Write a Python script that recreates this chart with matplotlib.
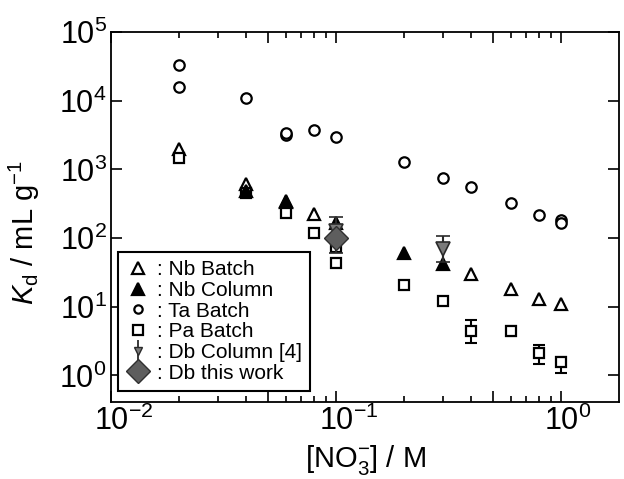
import matplotlib
matplotlib.use('Agg')
import matplotlib.pyplot as plt
import matplotlib.transforms as mtransforms
from matplotlib.ticker import FixedLocator, FuncFormatter, NullLocator
from matplotlib.lines import Line2D
import numpy as np

plt.rcParams['font.family'] = ['Liberation Sans', 'DejaVu Sans']
plt.rcParams['mathtext.fontset'] = 'custom'
plt.rcParams['mathtext.rm'] = 'Liberation Sans'
plt.rcParams['mathtext.it'] = 'Liberation Sans:italic'
plt.rcParams['mathtext.bf'] = 'Liberation Sans:bold'

# ---------------- data ----------------
nb_batch_x = [0.02, 0.04, 0.06, 0.08, 0.4, 0.6, 0.8, 1.0]
nb_batch_y = [1950, 620, 330, 225, 30, 18, 12.8, 10.8]

nb_col_x = [0.04, 0.06, 0.1, 0.2, 0.3]
nb_col_y = [490, 350, 165, 60, 42]

ta_batch_x = [0.02, 0.02, 0.04, 0.06, 0.06, 0.08, 0.1, 0.2, 0.3, 0.4, 0.6, 0.8, 1.0, 1.0]
ta_batch_y = [33500, 16000, 11000, 3200, 3400, 3700, 3000, 1260, 760, 545, 320, 213, 180, 163]

pa_batch_x = [0.02, 0.04, 0.06, 0.08, 0.1, 0.1, 0.2, 0.3, 0.4, 0.6, 0.8, 1.0]
pa_batch_y = [1480, 460, 230, 117, 73, 43, 21, 12.3, 4.5, 4.4, 2.15, 1.55]
pa_err_x = [0.4, 0.6, 0.8, 1.0]
pa_err_y = [4.5, 4.4, 2.15, 1.55]
pa_err_low = [3.0, 3.7, 1.45, 1.07]
pa_err_high = [6.3, 5.2, 2.8, 1.85]

db_col_x = [0.1, 0.3]
db_col_y = [125, 70]
db_col_low = [60, 45]
db_col_high = [205, 108]

db_this_x = [0.1]
db_this_y = [100]

legend_labels = [': Nb Batch', ': Nb Column', ': Ta Batch', ': Pa Batch',
                 ': Db Column [4]', ': Db this work']
x_ticks = [0.01, 0.05, 0.1, 0.5, 1.0]
y_ticks = [1, 10, 100, 1000, 10000, 100000]

# ---------------- figure ----------------
fig = plt.figure(figsize=(6.24, 4.79), dpi=100)
ax = fig.add_axes([0.1779, 0.1608, 0.8141, 0.7724])
ax.set_xscale('log')
ax.set_yscale('log')
ax.set_xlim(0.01, 1.81)
ax.set_ylim(0.41, 1e5)

mew = 1.6
ax.plot(nb_batch_x, nb_batch_y, ls='none', marker='^', ms=8.5,
        mfc='white', mec='black', mew=mew, zorder=3)
ax.plot(pa_batch_x, pa_batch_y, ls='none', marker='s', ms=6.8,
        mfc='white', mec='black', mew=mew, zorder=3)
ax.errorbar(pa_err_x, pa_err_y,
            yerr=[np.array(pa_err_y) - np.array(pa_err_low),
                  np.array(pa_err_high) - np.array(pa_err_y)],
            fmt='none', ecolor='black', elinewidth=1.5, capsize=4.5,
            capthick=1.5, zorder=2)
ax.plot(ta_batch_x, ta_batch_y, ls='none', marker='o', ms=7.5,
        mfc='white', mec='black', mew=mew, zorder=3)
ax.plot(nb_col_x, nb_col_y, ls='none', marker='^', ms=8.5,
        mfc='black', mec='black', mew=mew, zorder=4)
ax.errorbar(db_col_x, db_col_y,
            yerr=[np.array(db_col_y) - np.array(db_col_low),
                  np.array(db_col_high) - np.array(db_col_y)],
            fmt='v', ms=10, mfc='#7a7a7a', mec='#2a2a2a', mew=1.2,
            ecolor='#2a2a2a', elinewidth=1.5, capsize=5,
            capthick=1.8, zorder=5)
ax.plot(db_this_x, db_this_y, ls='none', marker='D', ms=12.5,
        mfc='#5e5e5e', mec='#303030', mew=1.0, zorder=6)

# legend proxies (sized like the reference legend symbols)
p_nbb = Line2D([], [], ls='none', marker='^', ms=9, mfc='white', mec='black', mew=1.6)
p_nbc = Line2D([], [], ls='none', marker='^', ms=9, mfc='black', mec='black', mew=1.6)
p_ta = Line2D([], [], ls='none', marker='o', ms=6, mfc='white', mec='black', mew=1.6)
p_pa = Line2D([], [], ls='none', marker='s', ms=6.5, mfc='white', mec='black', mew=1.6)
p_dbc = ax.errorbar([np.nan], [np.nan], yerr=[[1], [1]], fmt='v', ms=6,
                    mfc='#7a7a7a', mec='#2a2a2a', mew=1.0, ecolor='#2a2a2a',
                    elinewidth=1.3, capsize=0)
p_db = Line2D([], [], ls='none', marker='D', ms=12, mfc='#5e5e5e', mec='#303030', mew=1.0)

leg = ax.legend([p_nbb, p_nbc, p_ta, p_pa, p_dbc, p_db], legend_labels,
                loc='lower left', bbox_to_anchor=(0.0138, 0.0297),
                borderaxespad=0, fontsize=15, labelspacing=0.08,
                handlelength=1.15, handletextpad=0.3, borderpad=0.4,
                fancybox=False, framealpha=1, edgecolor='black',
                numpoints=1)
leg.get_frame().set_linewidth(1.5)

# ticks
ax.xaxis.set_major_locator(FixedLocator(x_ticks))
ax.xaxis.set_minor_locator(FixedLocator(
    [m * d for d in (0.01, 0.1, 1.0) for m in (2, 3, 4, 6, 7, 8, 9) if m * d < 1.81]))


def xfmt(v, p):
    e = np.log10(v)
    if abs(e - round(e)) < 1e-6:
        return r'$\mathregular{10^{%d}}$' % round(e)
    return ''


ax.xaxis.set_major_formatter(FuncFormatter(xfmt))
ax.yaxis.set_major_locator(FixedLocator(y_ticks))
ax.yaxis.set_minor_locator(NullLocator())
ax.yaxis.set_major_formatter(FuncFormatter(
    lambda v, p: r'$\mathregular{10^{%d}}$' % round(np.log10(v))))

ax.tick_params(which='both', direction='in', top=True, right=True,
               width=1.2, labelsize=22)
ax.tick_params(which='major', length=8)
ax.tick_params(which='minor', length=4)
ax.tick_params(axis='x', which='major', pad=3)
ax.tick_params(axis='y', which='major', pad=3)
for s in ax.spines.values():
    s.set_linewidth(1.3)

offset = mtransforms.ScaledTranslation(-0.17, 0, fig.dpi_scale_trans)
for t in ax.xaxis.get_major_ticks():
    t.label1.set_horizontalalignment('left')
    t.label1.set_transform(t.label1.get_transform() + offset)

ax.set_xlabel(r'[NO$_3^{-}$] / M', fontsize=21, labelpad=4)
ax.set_ylabel(r'$K_{\mathrm{d}}$ / mL g$^{-1}$', fontsize=21)
ax.yaxis.set_label_coords(-0.135, 0.457)

fig.savefig('out.png', dpi=100)
